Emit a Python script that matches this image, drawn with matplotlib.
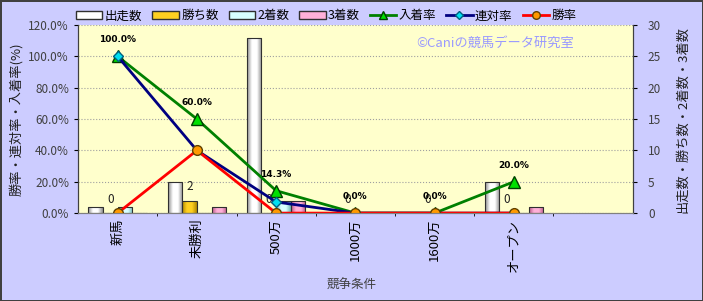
import numpy as np
import matplotlib
matplotlib.use("Agg")
import matplotlib.pyplot as plt
from matplotlib.colors import LinearSegmentedColormap
from matplotlib.lines import Line2D
from matplotlib.patches import Patch

plt.rcParams['font.family'] = ['Noto Sans CJK JP', 'DejaVu Sans']

# データ
categories = ["新馬", "未勝利", "500万", "1000万", "1600万", "オープン", ""]
starts = [1, 5, 28, 0, 0, 5, np.nan]
wins = [0, 2, 0, 0, 0, 0, np.nan]
seconds = [1, 0, 2, 0, 0, 0, np.nan]
thirds = [0, 1, 2, 0, 0, 1, np.nan]
place_rate = [100.0, 60.0, 14.3, 0.0, 0.0, 20.0, np.nan]
rentai_rate = [100.0, 40.0, 7.1, 0.0, 0.0, 0.0, np.nan]
win_rate = [0.0, 40.0, 0.0, 0.0, 0.0, 0.0, np.nan]

x = np.arange(len(categories))
bw = 0.185

fig = plt.figure(figsize=(7.03, 3.01), dpi=100)
fig.patch.set_facecolor("#CCCCFF")
fig.patch.set_edgecolor("#404040")
fig.patch.set_linewidth(2)

ax = fig.add_axes([0.111, 0.292, 0.789, 0.625])
ax2 = ax.twinx()
ax.set_zorder(ax2.get_zorder() + 1)
ax.patch.set_visible(False)
ax2.patch.set_visible(True)
ax2.patch.set_facecolor("#FFFFCC")


def gradient_bars(axis, xs, vals, dark, light, label):
    # 円柱っぽいグラデーションの棒
    cmap = LinearSegmentedColormap.from_list("g", [dark, light, light, dark], N=64)
    grad = np.linspace(0, 1, 64).reshape(1, -1)
    bars = axis.bar(xs, vals, bw, color=light, edgecolor="#303030", linewidth=0.8, label=label, zorder=2)
    for b in bars:
        h = b.get_height()
        if not np.isfinite(h) or h <= 0:
            continue
        im = axis.imshow(grad, cmap=cmap, aspect="auto", zorder=2.1,
                         extent=[b.get_x(), b.get_x() + b.get_width(), 0, h])
        im.set_clip_path(b)
        b.set_facecolor("none")
        b.set_zorder(2.2)
    return bars


series = [
    (starts, "#8C8C8C", "#FFFFFF", "出走数"),
    (wins, "#B08800", "#FFD020", "勝ち数"),
    (seconds, "#70B8B8", "#D8FFFF", "2着数"),
    (thirds, "#B85888", "#FFB0D8", "3着数"),
]
bar_handles = []
for k, (vals, dark, light, lab) in enumerate(series):
    gradient_bars(ax2, x + (k - 1.5) * bw, vals, dark, light, lab)
    bar_handles.append(Patch(facecolor=light, edgecolor="#303030", label=lab))

ax.plot(x, place_rate, color="#008000", lw=2, marker="^", ms=8,
        mfc="#00E000", mec="#004000", label="入着率")
ax.plot(x, rentai_rate, color="#000080", lw=2, marker="D", ms=5.5,
        mfc="#00E0F0", mec="#006080", label="連対率")
ax.plot(x, win_rate, color="#FF0000", lw=2, marker="o", ms=7,
        mfc="#FF9900", mec="#604000", label="勝率")

# データラベル
for xi, v in zip(x, place_rate):
    if np.isfinite(v):
        ax.annotate(f"{v:.1f}%", (xi, v), xytext=(0, 12), textcoords="offset points",
                    ha="center", va="center", fontsize=6.5, fontweight="bold", family="DejaVu Sans")
for xi, v in zip(x - 0.5 * bw, wins):
    if np.isfinite(v):
        ax2.annotate(f"{v:.0f}", (xi, v), xytext=(0, 10), textcoords="offset points",
                     ha="center", va="center", fontsize=8.5, color="#202020")

ax.set_xlim(-0.5, len(categories) - 0.5)
ax.set_ylim(0, 120)
ax2.set_ylim(0, 30)
ax.set_yticks(np.arange(0, 121, 20))
ax.set_yticklabels([f"{v:.1f}%" for v in range(0, 121, 20)])
ax2.set_yticks(np.arange(0, 31, 5))
ax.set_xticks(x)
ax.set_xticklabels(categories, rotation=90, fontsize=9.5)
ax.tick_params(axis="x", length=0, pad=4)
ax.tick_params(axis="y", labelsize=8.5, labelcolor="#404040", length=3)
ax2.tick_params(axis="y", labelsize=8.5, labelcolor="#404040", length=3, pad=8)

ax2.set_xticks(np.arange(0.5, len(categories) - 0.5), minor=True)
ax2.tick_params(axis="x", which="both", length=0)
ax2.grid(True, axis="y", color="#A0A0A0", ls=":", lw=0.8)
ax2.grid(True, axis="x", which="minor", color="#A0A0A0", ls=":", lw=0.8)
ax2.set_axisbelow(True)

for a in (ax, ax2):
    a.spines["top"].set_visible(False)
    a.spines["left"].set_color("#404040")
    a.spines["right"].set_color("#404040")
    a.spines["bottom"].set_color("#808080")

ax.set_ylabel("勝率・連対率・入着率(%)", fontsize=9.5, color="#202020")
ax2.set_ylabel("出走数・勝ち数・2着数・3着数", fontsize=9.5, color="#202020", rotation=90, labelpad=11)
fig.text(352 / 703, 1 - 285 / 301, "競争条件", fontsize=9, color="#404040", ha="center", va="center")

ax.text(0.61, 0.9, "©Caniの競馬データ研究室", transform=ax.transAxes, fontsize=9.5,
        color="#9999FF", ha="left", va="center")

line_handles = [
    Line2D([], [], color="#008000", lw=2, marker="^", ms=6, mfc="#00E000", mec="#004000", label="入着率"),
    Line2D([], [], color="#000080", lw=2, marker="D", ms=4, mfc="#00E0F0", mec="#006080", label="連対率"),
    Line2D([], [], color="#FF0000", lw=2, marker="o", ms=5.5, mfc="#FF9900", mec="#604000", label="勝率"),
]
fig.legend(handles=bar_handles + line_handles, loc="center", bbox_to_anchor=(0.464, 0.947),
           ncol=7, frameon=False, fontsize=9, handlelength=2.1, handleheight=0.5,
           columnspacing=0.8, handletextpad=0.2)

fig.savefig("out.png", dpi=100, facecolor=fig.get_facecolor(), edgecolor=fig.get_edgecolor())
